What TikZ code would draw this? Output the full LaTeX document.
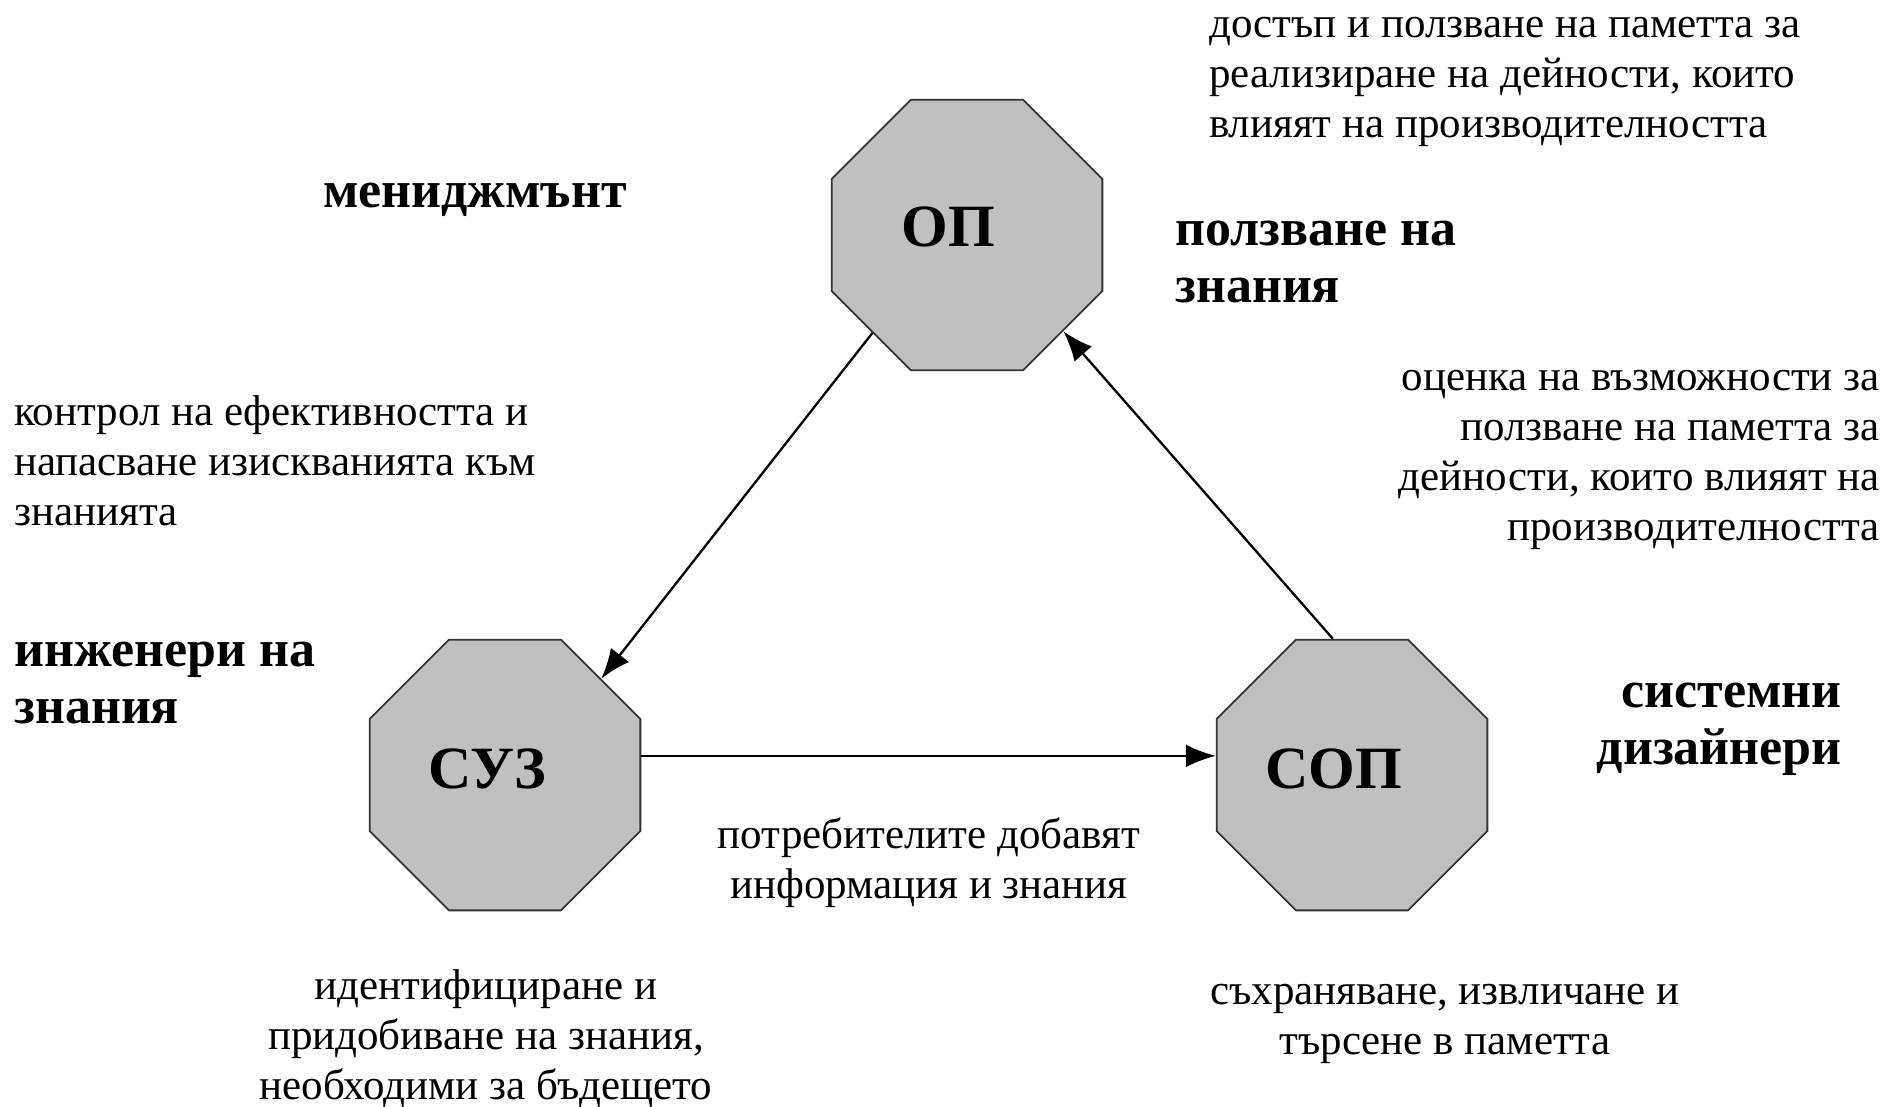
\documentclass[tikz,border=0pt]{standalone}
\usepackage{fontspec}
\setmainfont{Liberation Serif}
\usetikzlibrary{shapes.geometric,arrows.meta}
\definecolor{octgray}{HTML}{C0C0C0}
\definecolor{octline}{HTML}{333333}
\begin{document}
\begin{tikzpicture}[x=1pt,y=-1pt,
  oct/.style={regular polygon, regular polygon sides=8, minimum size=293pt,
    inner sep=0pt, draw=octline, line width=1.8pt, fill=octgray},
  octlabel/.style={font=\fontsize{60}{72}\selectfont\bfseries, inner sep=0pt},
  smalltxt/.style={font=\fontsize{43}{50}\selectfont, inner sep=0pt},
  bigtxt/.style={font=\fontsize{52}{57}\selectfont\bfseries, inner sep=0pt},
  conn/.style={line width=2.3pt, draw=black, -{Latex[length=30pt,width=23pt]}}]
\useasboundingbox (0,0) rectangle (1885,1106);
\fill[white] (0,0) rectangle (1885,1106);

% octagons
\node[oct, label={[octlabel, xshift=-19pt, yshift=8pt]center:ОП}] (op) at (967,235) {};
\node[oct, label={[octlabel, xshift=-18pt, yshift=6pt]center:СУЗ}] (suz) at (505,775) {};
\node[oct, label={[octlabel, xshift=-18pt, yshift=6pt]center:СОП}] (sop) at (1352,775) {};

% connectors
\draw[conn] (op.226) -- (suz.45);
\draw[conn] (suz.8) -- (sop.172);
\draw[conn] (sop.98) -- (op.315);

% bold role labels
\node[bigtxt] (mgmt) at (475,200) {мениджмънт};
\node[bigtxt, anchor=west, align=left] (use) at (1175,262) {ползване на\\знания};
\node[bigtxt, anchor=west, align=left] (eng) at (14,683) {инженери на\\знания};
\node[bigtxt, anchor=east, align=right] (des) at (1842,729) {системни\\дизайнери};

% descriptions
\node[smalltxt, anchor=west, align=left] (t1) at (1209,82)
  {достъп и ползване на паметта за\\реализиране на дейности, които\\влияят на производителността};
\node[smalltxt, anchor=east, align=right] (t2) at (1880,460)
  {оценка на възможности за\\ползване на паметта за\\дейности, които влияят на\\производителността};
\node[smalltxt, anchor=west, align=left] (t3) at (14,461)
  {контрол на ефективността и\\напасване изискванията към\\знанията};
\node[smalltxt, align=center] (t4) at (929,863)
  {потребителите добавят\\информация и знания};
\node[smalltxt, align=center] (t5) at (486,1039)
  {идентифициране и\\придобиване на знания,\\необходими за бъдещето};
\node[smalltxt, align=center] (t6) at (1445,1024)
  {съхраняване, извличане и\\търсене в паметта};
\end{tikzpicture}
\end{document}
